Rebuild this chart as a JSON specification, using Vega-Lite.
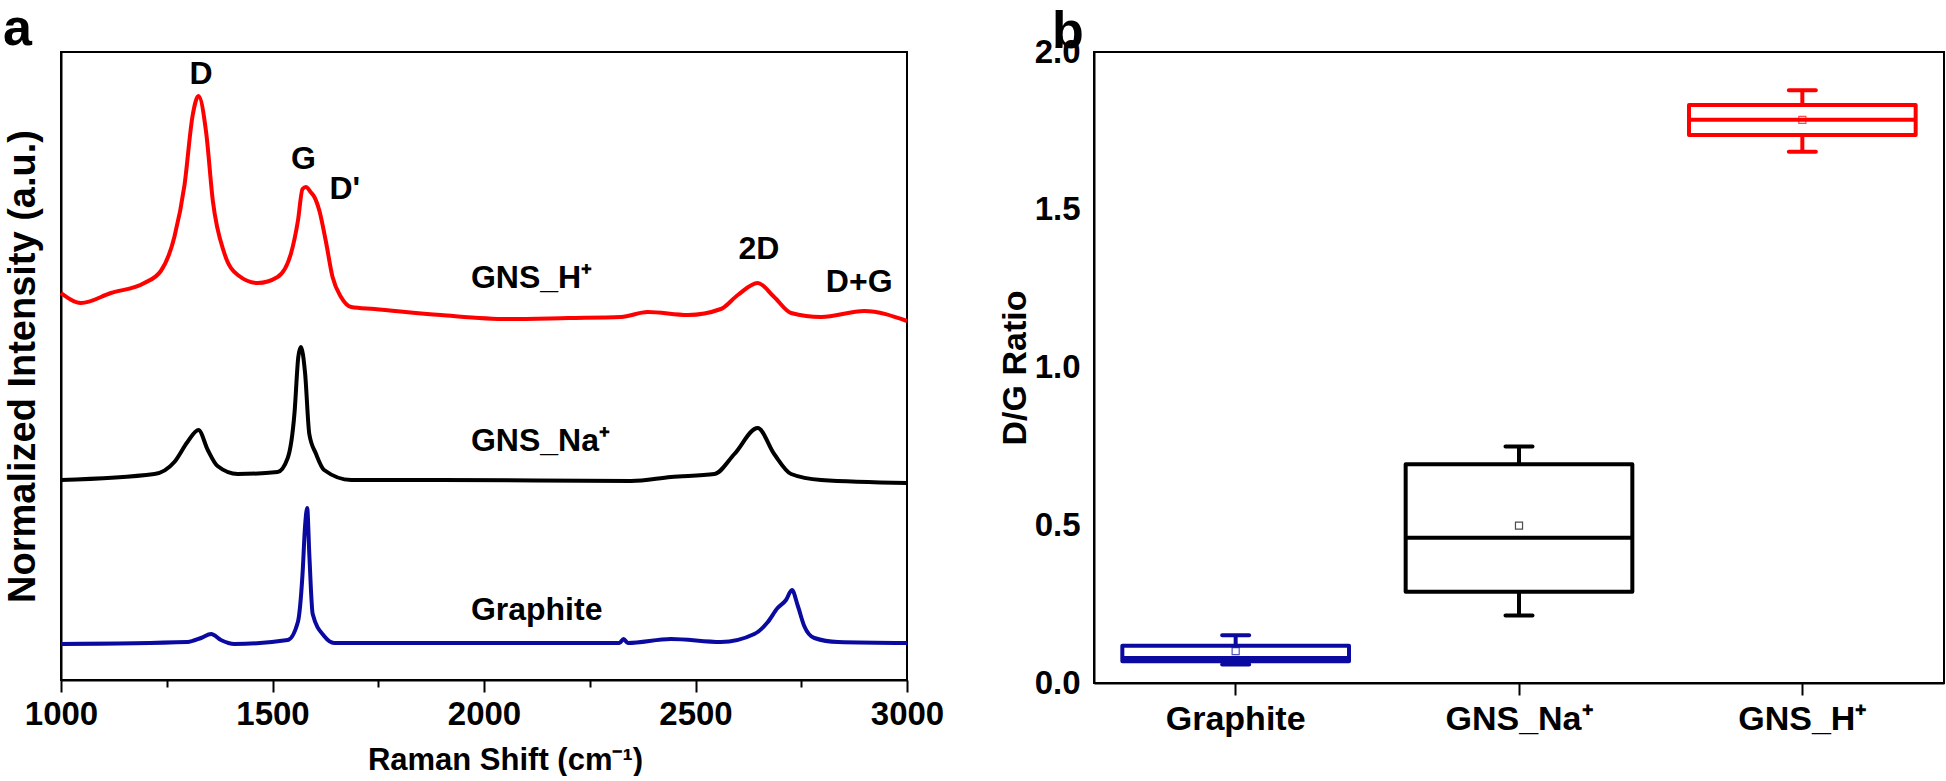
{
  "$schema": "https://vega.github.io/schema/vega-lite/v6.json",
  "autosize": {"type": "pad"},
  "padding": {"left": 2, "top": 2, "right": 0, "bottom": 0},
  "background": "white",
  "config": {
    "font": "Liberation Sans",
    "view": {"stroke": "black", "strokeWidth": 2},
    "axis": {
      "domainColor": "black", "domainWidth": 2, "tickColor": "black", "tickWidth": 2,
      "labelFont": "Liberation Sans", "labelFontWeight": "bold", "labelColor": "black",
      "titleFont": "Liberation Sans", "titleFontWeight": "bold", "titleColor": "black", "grid": false
    },
    "title": {"font": "Liberation Sans", "fontWeight": "bold", "color": "black", "fontSize": 52, "anchor": "start", "frame": "group", "baseline": "alphabetic"}
  },
  "datasets": {
    "spectra": [
      {"s": "GNS_H⁺", "x": 1000, "y": 387}, {"s": "GNS_H⁺", "x": 1047, "y": 377}, {"s": "GNS_H⁺", "x": 1118, "y": 387},
      {"s": "GNS_H⁺", "x": 1197, "y": 397}, {"s": "GNS_H⁺", "x": 1236, "y": 409}, {"s": "GNS_H⁺", "x": 1268, "y": 443},
      {"s": "GNS_H⁺", "x": 1292, "y": 495}, {"s": "GNS_H⁺", "x": 1311, "y": 564}, {"s": "GNS_H⁺", "x": 1325, "y": 584},
      {"s": "GNS_H⁺", "x": 1343, "y": 548}, {"s": "GNS_H⁺", "x": 1359, "y": 479}, {"s": "GNS_H⁺", "x": 1386, "y": 427},
      {"s": "GNS_H⁺", "x": 1418, "y": 405}, {"s": "GNS_H⁺", "x": 1465, "y": 397}, {"s": "GNS_H⁺", "x": 1512, "y": 403},
      {"s": "GNS_H⁺", "x": 1544, "y": 427}, {"s": "GNS_H⁺", "x": 1560, "y": 459}, {"s": "GNS_H⁺", "x": 1571, "y": 491},
      {"s": "GNS_H⁺", "x": 1579, "y": 493}, {"s": "GNS_H⁺", "x": 1590, "y": 488}, {"s": "GNS_H⁺", "x": 1599, "y": 483},
      {"s": "GNS_H⁺", "x": 1611, "y": 469}, {"s": "GNS_H⁺", "x": 1626, "y": 439}, {"s": "GNS_H⁺", "x": 1642, "y": 403},
      {"s": "GNS_H⁺", "x": 1662, "y": 383}, {"s": "GNS_H⁺", "x": 1686, "y": 373}, {"s": "GNS_H⁺", "x": 1741, "y": 371},
      {"s": "GNS_H⁺", "x": 1898, "y": 365}, {"s": "GNS_H⁺", "x": 2056, "y": 361}, {"s": "GNS_H⁺", "x": 2200, "y": 362},
      {"s": "GNS_H⁺", "x": 2324, "y": 363}, {"s": "GNS_H⁺", "x": 2387, "y": 368},
      {"s": "GNS_H⁺", "x": 2482, "y": 365}, {"s": "GNS_H⁺", "x": 2560, "y": 371}, {"s": "GNS_H⁺", "x": 2600, "y": 385},
      {"s": "GNS_H⁺", "x": 2647, "y": 397}, {"s": "GNS_H⁺", "x": 2686, "y": 383}, {"s": "GNS_H⁺", "x": 2726, "y": 367},
      {"s": "GNS_H⁺", "x": 2797, "y": 363}, {"s": "GNS_H⁺", "x": 2899, "y": 369}, {"s": "GNS_H⁺", "x": 3000, "y": 359},

      {"s": "GNS_Na⁺", "x": 1000, "y": 200}, {"s": "GNS_Na⁺", "x": 1221, "y": 206}, {"s": "GNS_Na⁺", "x": 1268, "y": 218},
      {"s": "GNS_Na⁺", "x": 1299, "y": 238}, {"s": "GNS_Na⁺", "x": 1325, "y": 250}, {"s": "GNS_Na⁺", "x": 1347, "y": 230},
      {"s": "GNS_Na⁺", "x": 1370, "y": 214}, {"s": "GNS_Na⁺", "x": 1418, "y": 206}, {"s": "GNS_Na⁺", "x": 1512, "y": 208},
      {"s": "GNS_Na⁺", "x": 1536, "y": 222}, {"s": "GNS_Na⁺", "x": 1552, "y": 267}, {"s": "GNS_Na⁺", "x": 1561, "y": 323},
      {"s": "GNS_Na⁺", "x": 1567, "y": 333}, {"s": "GNS_Na⁺", "x": 1577, "y": 307}, {"s": "GNS_Na⁺", "x": 1587, "y": 246},
      {"s": "GNS_Na⁺", "x": 1603, "y": 226}, {"s": "GNS_Na⁺", "x": 1622, "y": 210}, {"s": "GNS_Na⁺", "x": 1686, "y": 200},
      {"s": "GNS_Na⁺", "x": 1898, "y": 200}, {"s": "GNS_Na⁺", "x": 2348, "y": 199}, {"s": "GNS_Na⁺", "x": 2442, "y": 203},
      {"s": "GNS_Na⁺", "x": 2545, "y": 206}, {"s": "GNS_Na⁺", "x": 2592, "y": 226}, {"s": "GNS_Na⁺", "x": 2647, "y": 252},
      {"s": "GNS_Na⁺", "x": 2686, "y": 226}, {"s": "GNS_Na⁺", "x": 2726, "y": 206}, {"s": "GNS_Na⁺", "x": 2797, "y": 200},
      {"s": "GNS_Na⁺", "x": 3000, "y": 197},

      {"s": "Graphite", "x": 1000, "y": 36}, {"s": "Graphite", "x": 1299, "y": 38}, {"s": "Graphite", "x": 1331, "y": 42},
      {"s": "Graphite", "x": 1355, "y": 46}, {"s": "Graphite", "x": 1378, "y": 40}, {"s": "Graphite", "x": 1410, "y": 36},
      {"s": "Graphite", "x": 1536, "y": 40}, {"s": "Graphite", "x": 1560, "y": 58}, {"s": "Graphite", "x": 1571, "y": 106},
      {"s": "Graphite", "x": 1577, "y": 154}, {"s": "Graphite", "x": 1582, "y": 172}, {"s": "Graphite", "x": 1587, "y": 126},
      {"s": "Graphite", "x": 1595, "y": 66}, {"s": "Graphite", "x": 1622, "y": 44}, {"s": "Graphite", "x": 1646, "y": 37},
      {"s": "Graphite", "x": 2320, "y": 37}, {"s": "Graphite", "x": 2330, "y": 41}, {"s": "Graphite", "x": 2340, "y": 37},
      {"s": "Graphite", "x": 2442, "y": 41}, {"s": "Graphite", "x": 2560, "y": 38}, {"s": "Graphite", "x": 2639, "y": 46},
      {"s": "Graphite", "x": 2671, "y": 58}, {"s": "Graphite", "x": 2694, "y": 72}, {"s": "Graphite", "x": 2714, "y": 80},
      {"s": "Graphite", "x": 2728, "y": 90}, {"s": "Graphite", "x": 2742, "y": 74}, {"s": "Graphite", "x": 2757, "y": 54},
      {"s": "Graphite", "x": 2781, "y": 42}, {"s": "Graphite", "x": 2837, "y": 38}, {"s": "Graphite", "x": 3000, "y": 37}
    ],
    "peaks": [
      {"label": "D", "x": 1331, "y": 606},
      {"label": "G", "x": 1573, "y": 521},
      {"label": "D'", "x": 1671, "y": 491},
      {"label": "2D", "x": 2650, "y": 431},
      {"label": "D+G", "x": 2887, "y": 398}
    ],
    "names": [
      {"label": "GNS_H⁺", "x": 1969, "y": 402},
      {"label": "GNS_Na⁺", "x": 1969, "y": 239},
      {"label": "Graphite", "x": 1969, "y": 70}
    ],
    "boxes": [
      {"sample": "Graphite", "lo": 0.059, "q1": 0.069, "median": 0.079, "q3": 0.118, "hi": 0.151, "mean": 0.101},
      {"sample": "GNS_Na⁺", "lo": 0.214, "q1": 0.289, "median": 0.46, "q3": 0.693, "hi": 0.75, "mean": 0.499},
      {"sample": "GNS_H⁺", "lo": 1.684, "q1": 1.737, "median": 1.785, "q3": 1.832, "hi": 1.879, "mean": 1.785}
    ]
  },
  "spacing": 187,
  "bounds": "flush",
  "hconcat": [
    {
      "width": 846,
      "height": 628,
      "title": {"text": "a", "dx": -58, "offset": -4},
      "layer": [
        {
          "data": {"name": "spectra"},
          "mark": {"type": "line", "interpolate": "monotone", "strokeJoin": "round"},
          "encoding": {
            "x": {
              "field": "x", "type": "quantitative",
              "scale": {"domain": [1000, 3000], "nice": false, "zero": false},
              "axis": {
                "values": [1000, 1250, 1500, 1750, 2000, 2250, 2500, 2750, 3000],
                "format": "d",
                "labelExpr": "datum.value % 500 === 0 ? datum.label : ''",
                "tickSize": 12,
                "tickDash": {"condition": {"test": "datum.value % 500 === 0", "value": [12, 0]}, "value": [7, 20]},
                "labelFontSize": 33, "labelPadding": 6, "labelFlush": false,
                "title": "Raman Shift (cm⁻¹)", "titleFontSize": 31, "titlePadding": 14, "titleX": 444
              }
            },
            "y": {
              "field": "y", "type": "quantitative",
              "scale": {"domain": [0, 628], "nice": false},
              "axis": {"labels": false, "ticks": false, "title": "Normalized Intensity (a.u.)", "titleFontSize": 38, "titlePadding": 19}
            },
            "color": {
              "field": "s", "type": "nominal",
              "scale": {"domain": ["Graphite", "GNS_Na⁺", "GNS_H⁺"], "range": ["#0A0AA0", "#000000", "#FF0000"]},
              "legend": null
            },
            "strokeWidth": {
              "field": "s", "type": "nominal",
              "scale": {"domain": ["Graphite", "GNS_Na⁺", "GNS_H⁺"], "range": [4, 4, 5]},
              "legend": null
            }
          }
        },
        {
          "data": {"name": "peaks"},
          "mark": {"type": "text", "fontSize": 32, "fontWeight": "bold", "font": "Liberation Sans", "color": "black", "align": "center", "baseline": "middle"},
          "encoding": {
            "x": {"field": "x", "type": "quantitative"},
            "y": {"field": "y", "type": "quantitative"},
            "text": {"field": "label"}
          }
        },
        {
          "data": {"name": "names"},
          "mark": {"type": "text", "fontSize": 32, "fontWeight": "bold", "font": "Liberation Sans", "color": "black", "align": "left", "baseline": "middle"},
          "encoding": {
            "x": {"field": "x", "type": "quantitative"},
            "y": {"field": "y", "type": "quantitative"},
            "text": {"field": "label"}
          }
        }
      ]
    },
    {
      "width": 850,
      "height": 631,
      "title": {"text": "b", "dx": -42, "offset": -23},
      "data": {"name": "boxes"},
      "encoding": {
        "x": {
          "field": "sample", "type": "nominal",
          "sort": ["Graphite", "GNS_Na⁺", "GNS_H⁺"],
          "scale": {"paddingInner": 0, "paddingOuter": 0},
          "axis": {"labelAngle": 0, "labelFontSize": 34, "tickSize": 12, "labelPadding": 7, "title": null}
        },
        "color": {
          "field": "sample", "type": "nominal",
          "scale": {"domain": ["Graphite", "GNS_Na⁺", "GNS_H⁺"], "range": ["#0A0AA0", "#000000", "#FF0000"]},
          "legend": null
        }
      },
      "layer": [
        {
          "mark": {"type": "rule", "strokeWidth": 4},
          "encoding": {
            "y": {"field": "lo", "type": "quantitative", "scale": {"domain": [0, 2], "nice": false},
              "axis": {"values": [0, 0.5, 1, 1.5, 2], "format": ".1f", "ticks": false, "labelPadding": 14, "labelFontSize": 33, "title": "D/G Ratio", "titleFontSize": 34, "titlePadding": 2}},
            "y2": {"field": "q1"}
          }
        },
        {
          "mark": {"type": "rule", "strokeWidth": 4},
          "encoding": {"y": {"field": "q3", "type": "quantitative"}, "y2": {"field": "hi"}}
        },
        {
          "mark": {"type": "bar", "filled": false, "strokeWidth": 4, "strokeJoin": "round", "width": {"band": 0.8}},
          "encoding": {"y": {"field": "q1", "type": "quantitative"}, "y2": {"field": "q3"}}
        },
        {
          "mark": {"type": "tick", "size": 227, "thickness": 4, "opacity": 1},
          "encoding": {"y": {"field": "median", "type": "quantitative"}}
        },
        {
          "mark": {"type": "tick", "size": 31, "thickness": 4, "cornerRadius": 2, "opacity": 1},
          "encoding": {"y": {"field": "lo", "type": "quantitative"}}
        },
        {
          "mark": {"type": "tick", "size": 31, "thickness": 4, "cornerRadius": 2, "opacity": 1},
          "encoding": {"y": {"field": "hi", "type": "quantitative"}}
        },
        {
          "mark": {"type": "point", "shape": "square", "size": 50, "filled": false, "strokeWidth": 1.2, "opacity": 0.7},
          "encoding": {"y": {"field": "mean", "type": "quantitative"}}
        }
      ]
    }
  ]
}
